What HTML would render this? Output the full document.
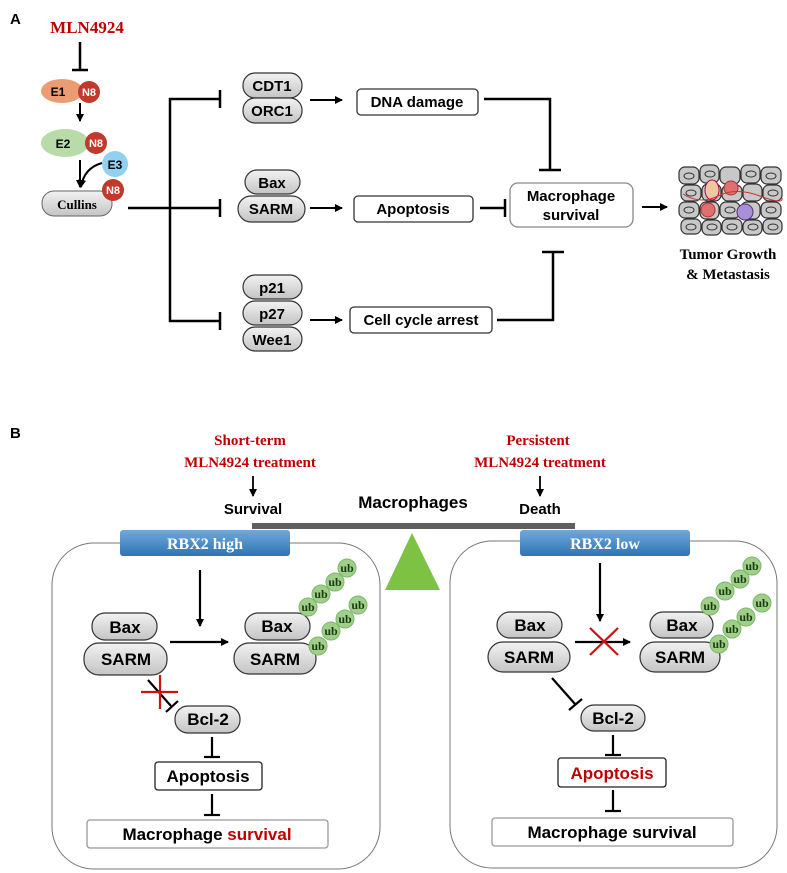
<!DOCTYPE html>
<html><head><meta charset="utf-8"><style>
html,body{margin:0;padding:0;background:#fff}
svg{display:block}
.s{font-family:"Liberation Sans",sans-serif;font-weight:bold}
.r{font-family:"Liberation Serif",serif;font-weight:bold}
</style></head><body>
<svg width="787" height="873" viewBox="0 0 787 873" xmlns="http://www.w3.org/2000/svg">
<defs>
<linearGradient id="pill" x1="0" y1="0" x2="0" y2="1"><stop offset="0" stop-color="#f2f2f2"/><stop offset="1" stop-color="#c4c4c4"/></linearGradient>
<linearGradient id="blue" x1="0" y1="0" x2="0" y2="1"><stop offset="0" stop-color="#6fa9dc"/><stop offset="1" stop-color="#2f74b5"/></linearGradient>
<marker id="ar" markerWidth="8" markerHeight="8" refX="7" refY="4" orient="auto" markerUnits="userSpaceOnUse"><path d="M0,0 L8,4 L0,8 Z" fill="#000"/></marker>
</defs>
<g fill="none" stroke="#000" stroke-width="2.5">
<line x1="80" y1="42" x2="80" y2="70"/><line x1="72" y1="70" x2="88" y2="70"/>
<line x1="80" y1="103" x2="80" y2="121" stroke-width="2" marker-end="url(#ar)"/>
<path d="M102,163 Q84,168 81,187" stroke-width="2" marker-end="url(#ar)"/>
<line x1="80" y1="160" x2="80" y2="187" stroke-width="2" marker-end="url(#ar)"/>
<line x1="128" y1="208" x2="170" y2="208"/>
<polyline points="220,99 170,99 170,321 220,321"/>
<line x1="170" y1="208" x2="220" y2="208"/>
<line x1="220" y1="90" x2="220" y2="108"/><line x1="220" y1="199" x2="220" y2="217"/><line x1="220" y1="312" x2="220" y2="330"/>
<line x1="310" y1="100" x2="342" y2="100" stroke-width="2" marker-end="url(#ar)"/>
<line x1="310" y1="208" x2="342" y2="208" stroke-width="2" marker-end="url(#ar)"/>
<line x1="310" y1="320" x2="342" y2="320" stroke-width="2" marker-end="url(#ar)"/>
<polyline points="484,99 550,99 550,170"/><line x1="539" y1="170" x2="561" y2="170"/>
<line x1="480" y1="208" x2="505" y2="208"/><line x1="505" y1="199" x2="505" y2="217"/>
<polyline points="497,320 553,320 553,252"/><line x1="542" y1="252" x2="564" y2="252"/>
<line x1="642" y1="207" x2="667" y2="207" stroke-width="2" marker-end="url(#ar)"/>
</g>
<g class="s" font-size="15" text-anchor="middle">
<text x="10" y="24" text-anchor="start" font-size="15">A</text>
<text x="10" y="438" text-anchor="start" font-size="15">B</text>
</g>
<text x="87" y="33" class="r" font-size="17" fill="#c00000" text-anchor="middle">MLN4924</text>
<ellipse cx="62" cy="91" rx="21" ry="12" fill="#ec9c72"/>
<text x="58" y="96" class="s" font-size="12" text-anchor="middle">E1</text>
<circle cx="89" cy="92" r="11" fill="#c0392b"/><text x="89" y="96" class="s" font-size="11" fill="#fff" text-anchor="middle">N8</text>
<ellipse cx="65" cy="143" rx="24" ry="14" fill="#b8dba8"/>
<text x="63" y="148" class="s" font-size="12" text-anchor="middle">E2</text>
<circle cx="96" cy="143" r="11" fill="#c0392b"/><text x="96" y="147" class="s" font-size="11" fill="#fff" text-anchor="middle">N8</text>
<circle cx="115" cy="164" r="13" fill="#91d0ef"/><text x="115" y="169" class="s" font-size="12" text-anchor="middle">E3</text>
<rect x="42" y="191" width="70" height="25" rx="12" fill="url(#pill)" stroke="#666"/>
<text x="77" y="209" class="r" font-size="13" text-anchor="middle">Cullins</text>
<circle cx="113" cy="190" r="11" fill="#c0392b"/><text x="113" y="194" class="s" font-size="11" fill="#fff" text-anchor="middle">N8</text>
<g stroke="#333" stroke-width="1.2" fill="url(#pill)">
<rect x="243" y="73" width="59" height="25" rx="12"/><rect x="243" y="98" width="59" height="25" rx="12"/>
<rect x="245" y="170" width="55" height="24" rx="12"/><rect x="238" y="196" width="67" height="26" rx="13"/>
<rect x="243" y="275" width="59" height="24" rx="12"/><rect x="243" y="301" width="59" height="24" rx="12"/><rect x="243" y="327" width="59" height="24" rx="12"/>
</g>
<g class="s" font-size="15" text-anchor="middle">
<text x="272" y="91">CDT1</text><text x="272" y="116">ORC1</text>
<text x="272" y="188">Bax</text><text x="271" y="214">SARM</text>
<text x="272" y="293">p21</text><text x="272" y="319">p27</text><text x="272" y="345">Wee1</text>
</g>
<g fill="#fff" stroke="#333" stroke-width="1.3">
<rect x="357" y="89" width="121" height="26" rx="4"/>
<rect x="354" y="196" width="119" height="26" rx="4"/>
<rect x="510" y="183" width="123" height="44" rx="8" stroke="#888"/>
<rect x="350" y="307" width="142" height="26" rx="4"/>
</g>
<g class="s" font-size="15" text-anchor="middle">
<text x="417" y="107">DNA damage</text><text x="413" y="214">Apoptosis</text>
<text x="571" y="201">Macrophage</text><text x="571" y="220">survival</text>
<text x="421" y="325">Cell cycle arrest</text>
</g>
<g stroke="#333" stroke-width="1.2" fill="#c8c8c8">
<rect x="679" y="167" width="20" height="17" rx="6"/><rect x="700" y="165" width="19" height="18" rx="6"/><rect x="720" y="167" width="20" height="17" rx="6"/><rect x="741" y="165" width="19" height="18" rx="6"/><rect x="761" y="167" width="20" height="17" rx="6"/>
<rect x="681" y="185" width="20" height="16" rx="6"/><rect x="702" y="184" width="19" height="17" rx="6"/><rect x="722" y="185" width="20" height="16" rx="6"/><rect x="743" y="184" width="19" height="17" rx="6"/><rect x="763" y="185" width="19" height="16" rx="6"/>
<rect x="679" y="202" width="20" height="16" rx="6"/><rect x="700" y="202" width="19" height="17" rx="6"/><rect x="720" y="202" width="20" height="16" rx="6"/><rect x="741" y="202" width="19" height="17" rx="6"/><rect x="761" y="202" width="20" height="16" rx="6"/>
<rect x="681" y="219" width="20" height="15" rx="6"/><rect x="702" y="220" width="19" height="15" rx="6"/><rect x="722" y="219" width="20" height="15" rx="6"/><rect x="743" y="220" width="19" height="15" rx="6"/><rect x="763" y="219" width="19" height="15" rx="6"/>
</g>
<g fill="none" stroke="#333" stroke-width="1">
<ellipse cx="689" cy="176" rx="5" ry="3"/><ellipse cx="710" cy="174" rx="5" ry="3"/><ellipse cx="751" cy="174" rx="5" ry="3"/><ellipse cx="771" cy="176" rx="5" ry="3"/>
<ellipse cx="691" cy="193" rx="5" ry="3"/><ellipse cx="773" cy="193" rx="5" ry="3"/><ellipse cx="689" cy="210" rx="5" ry="3"/><ellipse cx="730" cy="210" rx="5" ry="3"/><ellipse cx="771" cy="210" rx="5" ry="3"/>
<ellipse cx="691" cy="227" rx="5" ry="3"/><ellipse cx="712" cy="227" rx="5" ry="3"/><ellipse cx="732" cy="227" rx="5" ry="3"/><ellipse cx="753" cy="227" rx="5" ry="3"/><ellipse cx="773" cy="227" rx="5" ry="3"/>
</g>
<ellipse cx="712" cy="190" rx="7" ry="10" fill="#f0c8a0" stroke="#a05"/>
<circle cx="731" cy="188" r="7" fill="#e07070" stroke="#a33"/><circle cx="708" cy="210" r="7" fill="#e07070" stroke="#a33"/>
<circle cx="745" cy="212" r="8" fill="#a890d8" stroke="#537"/>
<path d="M683,194 Q700,205 718,196 T760,196 T782,198" fill="none" stroke="#c33" stroke-width="1"/>
<g class="r" font-size="15" text-anchor="middle"><text x="728" y="259">Tumor Growth</text><text x="728" y="279">&amp; Metastasis</text></g>
<g class="r" font-size="15" fill="#c00000" text-anchor="middle">
<text x="250" y="445">Short-term</text><text x="250" y="467">MLN4924 treatment</text>
<text x="538" y="445">Persistent</text><text x="540" y="467">MLN4924 treatment</text>
</g>
<g stroke="#000" stroke-width="1.8">
<line x1="253" y1="476" x2="253" y2="496" marker-end="url(#ar)"/>
<line x1="540" y1="476" x2="540" y2="496" marker-end="url(#ar)"/>
</g>
<g class="s" text-anchor="middle">
<text x="253" y="514" font-size="15">Survival</text><text x="540" y="514" font-size="15">Death</text>
<text x="413" y="508" font-size="17">Macrophages</text>
</g>
<rect x="252" y="523" width="323" height="6" fill="#5f5f5f"/>
<polygon points="412,533 385,590 440,590" fill="#7dc242"/>
<rect x="52" y="543" width="328" height="326" rx="42" fill="none" stroke="#777" stroke-width="1"/>
<rect x="450" y="541" width="327" height="327" rx="42" fill="none" stroke="#777" stroke-width="1"/>
<rect x="120" y="530" width="170" height="26" rx="3" fill="url(#blue)"/>
<rect x="520" y="530" width="170" height="26" rx="3" fill="url(#blue)"/>
<g class="r" font-size="16" fill="#fff" text-anchor="middle"><text x="205" y="549">RBX2  high</text><text x="605" y="549">RBX2  low</text></g>
<g stroke="#000" stroke-width="2.2" fill="none">
<line x1="200" y1="570" x2="200" y2="626" marker-end="url(#ar)"/>
<line x1="170" y1="642" x2="228" y2="642" marker-end="url(#ar)"/>
<line x1="148" y1="680" x2="171" y2="706"/><line x1="166" y1="712" x2="178" y2="701"/>
<line x1="212" y1="737" x2="212" y2="757"/><line x1="204" y1="757" x2="220" y2="757"/>
<line x1="212" y1="794" x2="212" y2="815"/><line x1="204" y1="815" x2="220" y2="815"/>
<line x1="600" y1="563" x2="600" y2="621" marker-end="url(#ar)"/>
<line x1="575" y1="642" x2="630" y2="642" marker-end="url(#ar)"/>
<line x1="552" y1="678" x2="575" y2="704"/><line x1="569" y1="710" x2="582" y2="699"/>
<line x1="613" y1="735" x2="613" y2="755"/><line x1="605" y1="755" x2="621" y2="755"/>
<line x1="613" y1="790" x2="613" y2="811"/><line x1="605" y1="811" x2="621" y2="811"/>
</g>
<g stroke="#cc1111" stroke-width="2.2">
<line x1="141" y1="692" x2="178" y2="692"/><line x1="160" y1="675" x2="160" y2="709"/>
<line x1="590" y1="628" x2="618" y2="655"/><line x1="590" y1="655" x2="618" y2="628"/>
</g>
<g stroke="#333" stroke-width="1.2" fill="url(#pill)">
<rect x="92" y="613" width="65" height="27" rx="13"/><rect x="84" y="643" width="83" height="32" rx="15"/>
<rect x="245" y="613" width="65" height="27" rx="13"/><rect x="234" y="643" width="82" height="31" rx="15"/>
<rect x="175" y="706" width="65" height="27" rx="13"/>
<rect x="497" y="612" width="65" height="26" rx="13"/><rect x="488" y="642" width="82" height="30" rx="15"/>
<rect x="650" y="612" width="63" height="26" rx="13"/><rect x="640" y="642" width="80" height="30" rx="15"/>
<rect x="581" y="705" width="64" height="26" rx="13"/>
</g>
<g fill="#9fd08a" stroke="#7fb56a" stroke-width="1">
<circle cx="308" cy="607" r="9"/><circle cx="321" cy="594" r="9"/><circle cx="335" cy="582" r="9"/><circle cx="347" cy="568" r="9"/>
<circle cx="318" cy="646" r="9"/><circle cx="331" cy="631" r="9"/><circle cx="345" cy="619" r="9"/><circle cx="358" cy="605" r="9"/>
<circle cx="710" cy="606" r="9"/><circle cx="725" cy="591" r="9"/><circle cx="740" cy="579" r="9"/><circle cx="752" cy="566" r="9"/>
<circle cx="719" cy="644" r="9"/><circle cx="732" cy="629" r="9"/><circle cx="746" cy="617" r="9"/><circle cx="762" cy="603" r="9"/>
</g>
<g class="r" font-size="12" fill="#1a3a10" text-anchor="middle">
<text x="308" y="611">ub</text><text x="321" y="598">ub</text><text x="335" y="586">ub</text><text x="347" y="572">ub</text>
<text x="318" y="650">ub</text><text x="331" y="635">ub</text><text x="345" y="623">ub</text><text x="358" y="609">ub</text>
<text x="710" y="610">ub</text><text x="725" y="595">ub</text><text x="740" y="583">ub</text><text x="752" y="570">ub</text>
<text x="719" y="648">ub</text><text x="732" y="633">ub</text><text x="746" y="621">ub</text><text x="762" y="607">ub</text>
</g>
<g class="s" font-size="17" text-anchor="middle">
<text x="125" y="633">Bax</text><text x="126" y="665">SARM</text>
<text x="277" y="632">Bax</text><text x="275" y="665">SARM</text>
<text x="208" y="725">Bcl-2</text>
<text x="530" y="631">Bax</text><text x="529" y="663">SARM</text>
<text x="682" y="631">Bax</text><text x="680" y="663">SARM</text>
<text x="613" y="724">Bcl-2</text>
</g>
<g fill="#fff" stroke="#222" stroke-width="1.3">
<rect x="155" y="762" width="107" height="28" rx="3"/>
<rect x="87" y="820" width="241" height="28" rx="3" stroke="#999"/>
<rect x="558" y="758" width="108" height="29" rx="3"/>
<rect x="492" y="818" width="241" height="28" rx="3" stroke="#999"/>
</g>
<g class="s" font-size="17" text-anchor="middle">
<text x="208" y="782">Apoptosis</text>
<text x="207" y="840">Macrophage <tspan fill="#c00000">survival</tspan></text>
<text x="612" y="779" fill="#c00000">Apoptosis</text>
<text x="612" y="838">Macrophage  survival</text>
</g>
</svg>
</body></html>
